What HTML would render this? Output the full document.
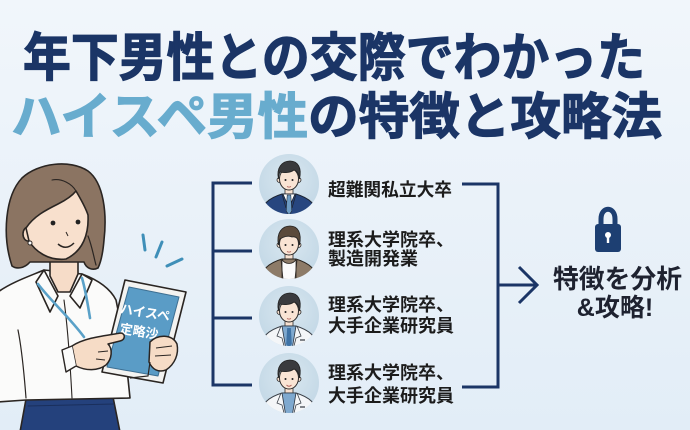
<!DOCTYPE html>
<html><head><meta charset="utf-8"><style>
html,body{margin:0;padding:0;width:690px;height:430px;overflow:hidden;}
svg{display:block;}
text{font-family:"Liberation Sans","Noto Sans CJK JP",sans-serif;font-weight:700;}
</style></head><body>
<svg width="690" height="430" viewBox="0 0 690 430" xmlns="http://www.w3.org/2000/svg">
<defs>
<linearGradient id="bg" x1="0" y1="0" x2="0" y2="1">
<stop offset="0" stop-color="#f1f6fb"/><stop offset="1" stop-color="#e2edf7"/>
</linearGradient>
<radialGradient id="cg" cx="0.5" cy="0.4" r="0.6">
<stop offset="0" stop-color="#d9e7f0"/><stop offset="1" stop-color="#c3d8e6"/>
</radialGradient>
<clipPath id="cc"><circle cx="0" cy="0" r="30"/></clipPath>
</defs>
<rect width="690" height="430" fill="url(#bg)"/>

<!-- Title -->
<text x="23" y="76" font-size="52" textLength="622" lengthAdjust="spacingAndGlyphs" fill="#1b3566" stroke="#1b3566" stroke-width="1.2">年下男性との交際でわかった</text>
<text x="11" y="134" font-size="50" textLength="651" lengthAdjust="spacingAndGlyphs" fill="#1b3566" stroke-width="1.2"><tspan fill="#68acce" stroke="#68acce">ハイスペ男性</tspan><tspan fill="#1b3566" stroke="#1b3566">の特徴と攻略法</tspan></text>

<!-- Left bracket -->
<g stroke="#1b3566" stroke-width="3" fill="none" stroke-linecap="butt">
<path d="M252,183 H213 V385 H252"/>
<path d="M213,251 H252"/>
<path d="M213,318 H252"/>
<!-- Right bracket -->
<path d="M462,184 H498 V387 H462"/>
<path d="M498,285 H537"/>
<path d="M519,267 L537,285 L519,303" stroke-linejoin="miter"/>
</g>

<!-- Lock -->
<path d="M601,227 V219 C601,206 615,206 615,219 V227" fill="none" stroke="#1d3f72" stroke-width="5"/>
<rect x="595" y="224" width="26" height="28" rx="3" fill="#1d3f72"/>
<circle cx="608" cy="235" r="3" fill="#fff"/>
<rect x="606.8" y="235" width="2.4" height="8" fill="#fff"/>

<!-- Right text -->
<text x="553" y="288" font-size="26" textLength="129" lengthAdjust="spacingAndGlyphs" fill="#1e2230">特徴を分析</text>
<text x="615" y="316" font-size="25" text-anchor="middle" fill="#1e2230">&amp;攻略!</text>

<!-- Avatar 1: navy suit -->
<g transform="translate(289,184)">
<circle r="30" fill="url(#cg)"/>
<g clip-path="url(#cc)">
<rect x="-4" y="2" width="8" height="10" fill="#f7e1d1" stroke="#2b2b2b" stroke-width="0.8"/>
<path d="M-29,34 C-28,20 -20,14 -7,10 L7,10 C20,14 28,20 29,34 Z" fill="#27467f" stroke="#1d2533" stroke-width="1"/>
<path d="M-6,10 L0,24 L6,10 Z" fill="#fff" stroke="#1d2533" stroke-width="0.8"/>
<path d="M-1.8,11 L1.8,11 L2.8,27 L0,31 L-2.8,27 Z" fill="#6e9cc4" stroke="#1d2533" stroke-width="0.6"/>
<path d="M-7,10 L-3,24 M7,10 L3,24" stroke="#1d2533" stroke-width="0.8" fill="none"/>
<circle cx="-9.5" cy="-4" r="2.5" fill="#f7e1d1" stroke="#2b2b2b" stroke-width="0.8"/>
<circle cx="9.5" cy="-4" r="2.5" fill="#f7e1d1" stroke="#2b2b2b" stroke-width="0.8"/>
<ellipse cx="0" cy="-5" rx="9.5" ry="11" fill="#f9e4d4" stroke="#2b2b2b" stroke-width="1"/>
<path d="M-10.5,-5 C-13,-16 -7,-23 1,-23 C9,-23 13,-16 10.5,-5 C10,-10 8,-13 5,-14 C1,-11 -5,-11 -9,-12 C-10,-10 -10.5,-8 -10.5,-5 Z" fill="#393a3c" stroke="#222" stroke-width="0.8"/>
<circle cx="-3.5" cy="-4" r="1" fill="#222"/><circle cx="3.5" cy="-4" r="1" fill="#222"/>
<path d="M-2,2.5 Q0,3.8 2,2.5" stroke="#b0605a" stroke-width="0.8" fill="none"/>
</g></g>

<!-- Avatar 2: brown jacket -->
<g transform="translate(289,249)">
<circle r="30" fill="url(#cg)"/>
<g clip-path="url(#cc)">
<rect x="-4" y="2" width="8" height="10" fill="#f7e1d1" stroke="#2b2b2b" stroke-width="0.8"/>
<path d="M-29,34 C-28,20 -20,14 -7,10 L7,10 C20,14 28,20 29,34 Z" fill="#8d7b68" stroke="#2a2520" stroke-width="1"/>
<path d="M-7,10 C-5,16 5,16 7,10 L7,34 L-7,34 Z" fill="#fbfbfb" stroke="#2a2520" stroke-width="0.8"/>
<path d="M-8,11 L-6,30 M8,11 L6,30" stroke="#2a2520" stroke-width="0.8" fill="none"/>
<circle cx="-9.5" cy="-4" r="2.5" fill="#f7e1d1" stroke="#2b2b2b" stroke-width="0.8"/>
<circle cx="9.5" cy="-4" r="2.5" fill="#f7e1d1" stroke="#2b2b2b" stroke-width="0.8"/>
<ellipse cx="0" cy="-5" rx="9.5" ry="11" fill="#f9e4d4" stroke="#2b2b2b" stroke-width="1"/>
<path d="M-10.5,-4 C-13,-16 -7,-23 1,-23 C9,-23 13,-16 10.5,-4 C10,-10 7,-13 3,-12 C-1,-14 -6,-12 -9,-10 C-10,-8 -10.5,-6 -10.5,-4 Z" fill="#5b4a3b" stroke="#222" stroke-width="0.8"/>
<circle cx="-3.5" cy="-4" r="1" fill="#222"/><circle cx="3.5" cy="-4" r="1" fill="#222"/>
<path d="M-2,2.5 Q0,3.8 2,2.5" stroke="#b0605a" stroke-width="0.8" fill="none"/>
</g></g>

<!-- Avatar 3: lab coat -->
<g transform="translate(289,316)">
<circle r="30" fill="url(#cg)"/>
<g clip-path="url(#cc)">
<rect x="-4" y="2" width="8" height="10" fill="#f7e1d1" stroke="#2b2b2b" stroke-width="0.8"/>
<path d="M-29,34 C-28,20 -20,14 -7,10 L7,10 C20,14 28,20 29,34 Z" fill="#f4f6f8" stroke="#3a4048" stroke-width="1"/>
<path d="M-7,10 L-3,34 L3,34 L7,10 Z" fill="#7fa9cf" stroke="#2b3440" stroke-width="0.8"/>
<path d="M-1.8,12 L1.8,12 L2.8,28 L0,32 L-2.8,28 Z" fill="#3f73a6"/>
<path d="M-8,10 L-12,20 L-7,22 L-4,34 M8,10 L12,20 L7,22 L4,34" stroke="#3a4048" stroke-width="0.8" fill="none"/>
<path d="M11,24 h5" stroke="#3a4048" stroke-width="1.2"/>
<circle cx="-9.5" cy="-4" r="2.5" fill="#f7e1d1" stroke="#2b2b2b" stroke-width="0.8"/>
<circle cx="9.5" cy="-4" r="2.5" fill="#f7e1d1" stroke="#2b2b2b" stroke-width="0.8"/>
<ellipse cx="0" cy="-5" rx="9.5" ry="11" fill="#f9e4d4" stroke="#2b2b2b" stroke-width="1"/>
<path d="M-10.5,-5 C-13,-16 -7,-23 1,-23 C9,-23 13,-16 10.5,-5 C10,-10 8,-13 5,-14 C1,-11 -5,-11 -9,-12 C-10,-10 -10.5,-8 -10.5,-5 Z" fill="#3a3b3e" stroke="#222" stroke-width="0.8"/>
<circle cx="-3.5" cy="-4" r="1" fill="#222"/><circle cx="3.5" cy="-4" r="1" fill="#222"/>
<path d="M-2,2.5 Q0,3.8 2,2.5" stroke="#b0605a" stroke-width="0.8" fill="none"/>
</g></g>

<!-- Avatar 4: lab coat -->
<g transform="translate(289,383)">
<circle r="30" fill="url(#cg)"/>
<g clip-path="url(#cc)">
<rect x="-4" y="2" width="8" height="10" fill="#f7e1d1" stroke="#2b2b2b" stroke-width="0.8"/>
<path d="M-29,34 C-28,20 -20,14 -7,10 L7,10 C20,14 28,20 29,34 Z" fill="#f4f6f8" stroke="#3a4048" stroke-width="1"/>
<path d="M-7,10 L-3,34 L3,34 L7,10 Z" fill="#7fa9cf" stroke="#2b3440" stroke-width="0.8"/>
<path d="M-8,10 L-12,20 L-7,22 L-4,34 M8,10 L12,20 L7,22 L4,34" stroke="#3a4048" stroke-width="0.8" fill="none"/>
<path d="M11,24 h5" stroke="#3a4048" stroke-width="1.2"/>
<circle cx="-9.5" cy="-4" r="2.5" fill="#f7e1d1" stroke="#2b2b2b" stroke-width="0.8"/>
<circle cx="9.5" cy="-4" r="2.5" fill="#f7e1d1" stroke="#2b2b2b" stroke-width="0.8"/>
<ellipse cx="0" cy="-5" rx="9.5" ry="11" fill="#f9e4d4" stroke="#2b2b2b" stroke-width="1"/>
<path d="M-10.5,-5 C-13,-16 -7,-23 1,-23 C9,-23 13,-16 10.5,-5 C10,-10 8,-13 5,-14 C1,-11 -5,-11 -9,-12 C-10,-10 -10.5,-8 -10.5,-5 Z" fill="#3a3b3e" stroke="#222" stroke-width="0.8"/>
<circle cx="-3.5" cy="-4" r="1" fill="#222"/><circle cx="3.5" cy="-4" r="1" fill="#222"/>
<path d="M-2.5,2 Q0,4.5 2.5,2" stroke="#b0605a" stroke-width="0.9" fill="none"/>
</g></g>

<!-- Labels -->
<g font-size="18" fill="#1c1c1c">
<text x="328" y="196" textLength="124" lengthAdjust="spacingAndGlyphs">超難関私立大卒</text>
<text x="328" y="246">理系大学院卒、</text>
<text x="328" y="265">製造開発業</text>
<text x="328" y="311">理系大学院卒、</text>
<text x="328" y="332" textLength="126" lengthAdjust="spacingAndGlyphs">大手企業研究員</text>
<text x="328" y="379">理系大学院卒、</text>
<text x="328" y="402" textLength="126" lengthAdjust="spacingAndGlyphs">大手企業研究員</text>
</g>

<!-- Woman illustration -->
<g stroke="#2a2522" stroke-width="1.6" stroke-linejoin="round" stroke-linecap="round">
<!-- skirt -->
<path d="M26,399 L113,397 L120,432 L20,432 Z" fill="#24417c"/>
<path d="M28,406 L114,404" fill="none" stroke="#1a2f5c" stroke-width="1"/>
<!-- blouse body -->
<path d="M-2,292 C12,282 30,276 44,270 L82,274 C98,280 110,288 116,300 L124,340 L130,398 L26,400 L-2,402 Z" fill="#fbfbfa"/>
<path d="M18,330 C22,350 24,372 26,398" fill="none" stroke-width="1.2"/>
<path d="M64,300 C68,330 70,360 72,398" fill="none" stroke-width="1.1"/>
<!-- neck -->
<path d="M50,250 L50,276 L58,292 L70,292 L78,274 L78,250 Z" fill="#f6dcc8"/>
<!-- collar -->
<path d="M44,270 L58,296 L50,312 L36,282 Z" fill="#fbfbfa"/>
<path d="M82,274 L70,296 L80,308 L92,280 Z" fill="#fbfbfa"/>
<!-- lanyard -->
<path d="M38,284 C50,300 70,318 84,337" fill="none" stroke="#5aa1c8" stroke-width="2.6"/>
<path d="M82,278 C86,292 88,306 90,318" fill="none" stroke="#5aa1c8" stroke-width="2.6"/>
<!-- hair back -->
<path d="M12,266 C2,236 5,196 22,178 C38,163 70,159 88,171 C104,183 107,214 104,240 C103,252 101,262 98,268 C92,271 86,268 84,262 L30,262 C24,269 16,269 12,266 Z" fill="#8b7462"/>
<!-- ear -->
<ellipse cx="28" cy="234" rx="5" ry="7" fill="#f6dcc8"/>
<!-- face with hairline top -->
<path d="M26,228 C34,216 46,210 58,204 C66,200 72,196 76,191 C80,198 85,206 88,215 C89,234 83,251 66,259 C48,261 35,251 29,241 Z" fill="#f8e0cd"/>
<path d="M76,191 C72,184 62,178 52,180" fill="none" stroke-width="1.1"/>
<path d="M88,236 C92,246 94,258 96,265" fill="none" stroke-width="1.2"/>
</g>
<circle cx="30" cy="243" r="2" fill="#fff" stroke="#2a2522" stroke-width="1"/>
<circle cx="53" cy="223" r="2.4" fill="#222"/>
<circle cx="78" cy="222" r="2.4" fill="#222"/>
<path d="M66,232 L68,236" stroke="#2a2522" stroke-width="1" fill="none"/>
<path d="M58,244 Q66,251 74,243" stroke="#2a2522" stroke-width="1.5" fill="none"/>

<!-- sparkle lines -->
<g stroke="#3f8fb8" stroke-width="3" stroke-linecap="round">
<path d="M143,235 L145,250"/>
<path d="M162,242 L156,257"/>
<path d="M167,266 L182,259"/>
</g>

<!-- tablet -->
<g stroke="#2a2522" stroke-width="1.6" stroke-linejoin="round">
<path d="M125,280 L186,292 L163,383 L102,372 Z" fill="#f3f3f1"/>
<path d="M129,287 L179,297 L158,376 L107,367 Z" fill="#5a9cc6" stroke="#3d6f92" stroke-width="1"/>
</g>
<g fill="#fff" font-size="13">
<text x="145" y="317" text-anchor="middle" transform="rotate(9 145 313)">ハイスペ</text>
<text x="139" y="336" text-anchor="middle" transform="rotate(9 139 332)">定略沙</text>
</g>

<!-- hands -->
<g stroke="#2a2522" stroke-width="1.5" stroke-linejoin="round" fill="#f6dcc6">
<path d="M72,346 C84,338 102,336 121,333 C126,334 125,340 120,341 L108,344 C113,349 112,359 106,365 C98,371 86,371 76,366 Z"/>
<path d="M150,342 C158,334 172,334 177,344 C179,354 175,364 166,370 C158,373 152,369 149,362 Z"/>
<path d="M156,348 L172,346 M155,356 L171,355" fill="none" stroke-width="1"/>
<path d="M98,352 L108,351 M96,359 L105,360" fill="none" stroke-width="1"/>
</g>
<path d="M72,346 L62,350 L66,372 L76,366" fill="#fbfbfa" stroke="#2a2522" stroke-width="1.4" stroke-linejoin="round"/>
<path d="M150,362 L148,376 L130,378" fill="none" stroke="#2a2522" stroke-width="1.2"/>
</svg>
</body></html>
